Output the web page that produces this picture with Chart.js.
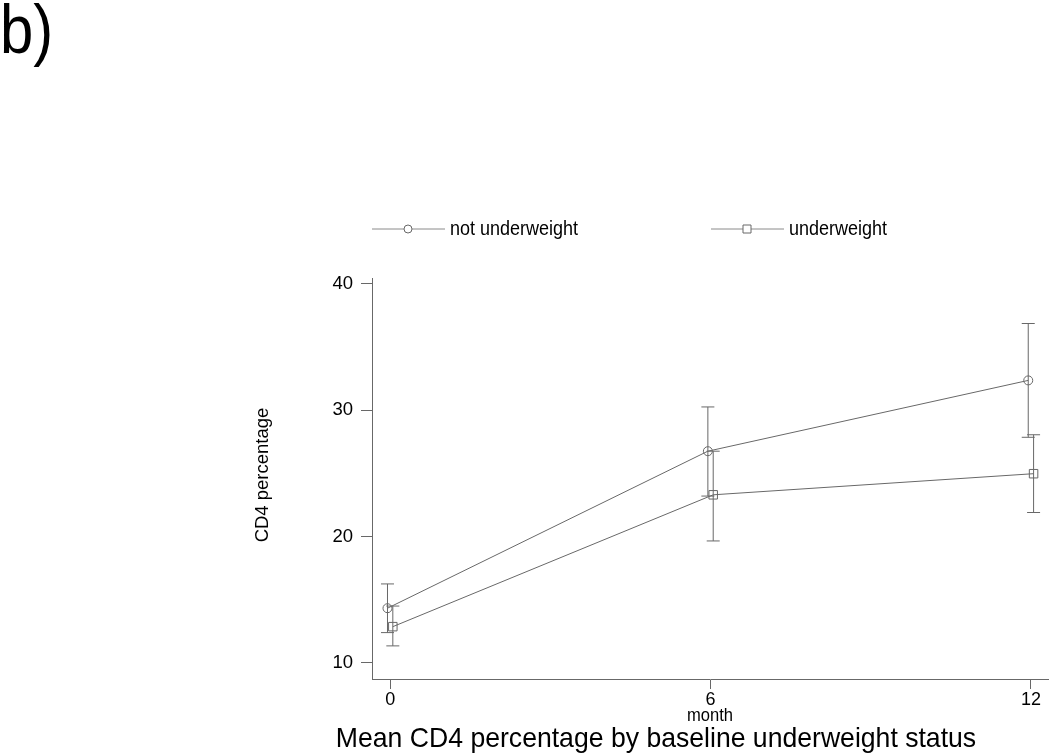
<!DOCTYPE html>
<html lang="en">
<head>
  <meta charset="UTF-8" />
  <title>Mean CD4 percentage by baseline underweight status</title>
  <script src="https://cdn.jsdelivr.net/npm/chart.js"></script>
  <style>
    body { margin: 0; background: #fff; }
    .wrap { width: 1050px; height: 753px; position: relative; }
  </style>
</head>
<body>
  <div class="wrap"><canvas id="cd4Chart"></canvas></div>

  <script>
    // data
    const months = [0, 6, 12];
    const seriesNames = ['not underweight', 'underweight'];
    const notUnderMean = [14.33, 26.75, 32.35];
    const notUnderLow = [12.4, 23.2, 27.85];
    const notUnderHigh = [16.25, 30.25, 36.85];
    const underMean = [12.87, 23.3, 24.97];
    const underLow = [11.35, 19.65, 21.9];
    const underHigh = [14.5, 26.75, 28.05];
    const yTicks = [10, 20, 30, 40];
    const xTicks = [0, 6, 12];
    const dodge = 0.05; // small horizontal shift between groups

    const grey = '#686868';
    const font = "'Liberation Sans', Arial, sans-serif";

    function pts(mean, shift, lo, hi) {
      return months.map((m, i) => ({ x: m + shift, y: mean[i], lo: lo[i], hi: hi[i] }));
    }

    // error bars with caps, drawn through the scales
    const errorBars = {
      id: 'errorBars',
      beforeDatasetsDraw(chart) {
        const { ctx, scales: { x, y } } = chart;
        ctx.save();
        ctx.strokeStyle = grey;
        ctx.lineWidth = 1;
        chart.data.datasets.forEach(ds => {
          ds.data.forEach(p => {
            const px = x.getPixelForValue(p.x);
            const top = y.getPixelForValue(p.hi);
            const bot = y.getPixelForValue(p.lo);
            ctx.beginPath();
            ctx.moveTo(px, top); ctx.lineTo(px, bot);
            ctx.moveTo(px - 6.5, top); ctx.lineTo(px + 6.5, top);
            ctx.moveTo(px - 6.5, bot); ctx.lineTo(px + 6.5, bot);
            ctx.stroke();
          });
        });
        ctx.restore();
      }
    };

    // text drawn slightly condensed, like the original
    function squeezed(ctx, text, x, y, size, sx, align) {
      ctx.save();
      ctx.translate(x, y);
      ctx.scale(sx, 1);
      ctx.font = size + 'px ' + font;
      ctx.textAlign = align;
      ctx.fillText(text, 0, 0);
      ctx.restore();
    }

    // panel label, legend, axis titles and caption
    const decorations = {
      id: 'decorations',
      afterDraw(chart) {
        const { ctx } = chart;
        ctx.save();
        ctx.fillStyle = '#000';
        ctx.textBaseline = 'alphabetic';
        squeezed(ctx, 'b)', 0, 53, 68, 0.88, 'left');

        // legend
        const items = [
          { x: 372, style: 'circle' },
          { x: 711, style: 'rect' }
        ];
        items.forEach((it, i) => {
          const yy = 229;
          ctx.strokeStyle = '#8a8a8a';
          ctx.lineWidth = 1;
          ctx.beginPath();
          ctx.moveTo(it.x, yy); ctx.lineTo(it.x + 73, yy);
          ctx.stroke();
          ctx.fillStyle = '#fff';
          ctx.strokeStyle = grey;
          ctx.beginPath();
          if (it.style === 'circle') {
            ctx.arc(it.x + 36, yy, 4, 0, Math.PI * 2);
          } else {
            ctx.rect(it.x + 32, yy - 4, 8, 8);
          }
          ctx.fill(); ctx.stroke();
          ctx.fillStyle = '#000';
          ctx.textBaseline = 'middle';
          squeezed(ctx, seriesNames[i], it.x + 78, yy, 20, 0.9, 'left');
        });

        // y title
        ctx.save();
        ctx.translate(263, 475);
        ctx.rotate(-Math.PI / 2);
        ctx.textAlign = 'center';
        ctx.textBaseline = 'middle';
        ctx.font = '18.5px ' + font;
        ctx.fillText('CD4 percentage', 0, 0);
        ctx.restore();

        // x title and caption
        ctx.textBaseline = 'middle';
        squeezed(ctx, 'month', 710, 716, 18, 0.92, 'center');
        squeezed(ctx, 'Mean CD4 percentage by baseline underweight status', 656, 739, 28, 0.95, 'center');
        ctx.restore();
      }
    };

    const ctx = document.getElementById('cd4Chart').getContext('2d');

    new Chart(ctx, {
      type: 'line',
      data: {
        datasets: [
          {
            label: seriesNames[0],
            data: pts(notUnderMean, -dodge, notUnderLow, notUnderHigh),
            borderColor: grey,
            borderWidth: 1,
            pointStyle: 'circle',
            pointRadius: 4.5,
            pointBackgroundColor: 'rgba(0,0,0,0)',
            pointBorderColor: grey,
            pointBorderWidth: 1
          },
          {
            label: seriesNames[1],
            data: pts(underMean, dodge, underLow, underHigh),
            borderColor: grey,
            borderWidth: 1,
            pointStyle: 'rect',
            pointRadius: 6,
            pointBackgroundColor: 'rgba(0,0,0,0)',
            pointBorderColor: grey,
            pointBorderWidth: 1
          }
        ]
      },
      options: {
        responsive: true,
        maintainAspectRatio: false,
        animation: false,
        layout: { autoPadding: false, padding: { left: 0, top: 278, right: 2, bottom: 0 } },
        plugins: {
          legend: { display: false },
          tooltip: { enabled: false }
        },
        scales: {
          x: {
            type: 'linear',
            min: -0.34,
            max: 12.32,
            afterBuildTicks: s => { s.ticks = xTicks.map(v => ({ value: v })); },
            afterFit: s => { s.height = 74; },
            grid: { drawOnChartArea: false, drawTicks: true, tickLength: 10, color: grey },
            border: { color: grey, width: 1 },
            ticks: { color: '#000', font: { family: font, size: 18 }, padding: 0, maxRotation: 0 }
          },
          y: {
            min: 8.73,
            max: 40.45,
            afterBuildTicks: s => { s.ticks = yTicks.map(v => ({ value: v })); },
            afterFit: s => { s.width = 372; },
            grid: { drawOnChartArea: false, drawTicks: true, tickLength: 11, color: grey },
            border: { color: grey, width: 1 },
            ticks: { color: '#000', font: { family: font, size: 18.5 }, padding: 8 }
          }
        }
      },
      plugins: [errorBars, decorations]
    });
  </script>
</body>
</html>
